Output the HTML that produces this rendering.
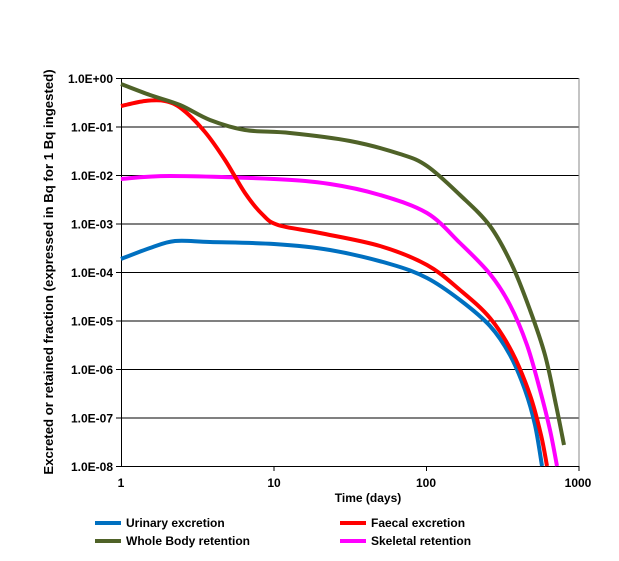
<!DOCTYPE html>
<html><head><meta charset="utf-8"><style>
body{margin:0;background:#fff}
svg text{font-family:"Liberation Sans",Arial,sans-serif;font-weight:bold;font-size:12px;fill:#000}
</style></head><body>
<svg id="s" width="619" height="556" xmlns="http://www.w3.org/2000/svg">
<g stroke="#000" stroke-width="1">
<line x1="121" y1="78.5" x2="579" y2="78.5"/>
<line x1="121" y1="127" x2="579" y2="127"/>
<line x1="121" y1="175.5" x2="579" y2="175.5"/>
<line x1="121" y1="224" x2="579" y2="224"/>
<line x1="121" y1="272.5" x2="579" y2="272.5"/>
<line x1="121" y1="321" x2="579" y2="321"/>
<line x1="121" y1="369.5" x2="579" y2="369.5"/>
<line x1="121" y1="418" x2="579" y2="418"/>
<line x1="121" y1="466.5" x2="579" y2="466.5"/>
<line x1="121.5" y1="78" x2="121.5" y2="467"/>
</g>
<line x1="579" y1="78" x2="579" y2="467" stroke="#888" stroke-width="1"/>
<g stroke="#000"><line x1="116" y1="78.5" x2="121" y2="78.5"/><line x1="116" y1="127" x2="121" y2="127"/><line x1="116" y1="175.5" x2="121" y2="175.5"/><line x1="116" y1="224" x2="121" y2="224"/><line x1="116" y1="272.5" x2="121" y2="272.5"/><line x1="116" y1="321" x2="121" y2="321"/><line x1="116" y1="369.5" x2="121" y2="369.5"/><line x1="116" y1="418" x2="121" y2="418"/><line x1="116" y1="466.5" x2="121" y2="466.5"/>
<line x1="274" y1="466" x2="274" y2="471"/><line x1="426.5" y1="466" x2="426.5" y2="471"/><line x1="579" y1="466" x2="579" y2="471"/></g>
<g text-anchor="end">
<text x="113" y="83">1.0E+00</text><text x="113" y="131.5">1.0E-01</text><text x="113" y="180">1.0E-02</text><text x="113" y="228.5">1.0E-03</text><text x="113" y="277">1.0E-04</text><text x="113" y="325.5">1.0E-05</text><text x="113" y="374">1.0E-06</text><text x="113" y="422.5">1.0E-07</text><text x="113" y="471">1.0E-08</text>
</g>
<g text-anchor="middle">
<text x="121" y="487">1</text><text x="274" y="487">10</text><text x="426" y="487">100</text><text x="578" y="487">1000</text>
<text x="368" y="502">Time (days)</text>
<text transform="translate(53,272) rotate(-90)" style="font-size:13.2px">Excreted or retained fraction (expressed in Bq for 1 Bq ingested)</text>
</g>
<g id="curves" fill="none" stroke-width="4" stroke-linejoin="round"></g>
<g stroke-width="4">
<line x1="95" y1="523" x2="121" y2="523" stroke="#0070C0"/>
<line x1="340" y1="523" x2="366" y2="523" stroke="#FF0000"/>
<line x1="95" y1="541" x2="121" y2="541" stroke="#4F6228"/>
<line x1="340" y1="541" x2="366" y2="541" stroke="#FF00FF"/>
</g>
<text x="126" y="527">Urinary excretion</text>
<text x="371" y="527">Faecal excretion</text>
<text x="126" y="545">Whole Body retention</text>
<text x="371" y="545">Skeletal retention</text>
</svg>
<script>
var data=[
["#0070C0",[[121,259],[150,248],[175,241],[210,242],[274,244],[330,250],[390,264],[427,278],[460,300],[490,326],[510,355],[525,390],[535,425],[542,466]]],
["#FF00FF",[[121,179],[170,176],[274,179],[330,184],[380,195],[427,213],[460,243],[490,274],[510,305],[527,345],[540,390],[550,430],[557,466]]],
["#FF0000",[[121,106],[145,101],[165,101],[182,109],[205,132],[225,160],[245,193],[262,214],[278,225],[320,233],[380,246],[427,265],[460,290],[490,318],[512,352],[530,395],[541,435],[547,466]]],
["#4F6228",[[121,84],[150,95],[180,105],[210,120],[245,130],[290,133],[350,141],[400,154],[427,166],[460,195],[490,226],[512,265],[530,310],[545,355],[556,405],[564,445]]]];
var g=document.getElementById('curves');
data.forEach(function(c){var p=c[1],d="M"+p[0][0]+","+p[0][1];
for(var i=0;i<p.length-1;i++){var a=p[i-1]||p[i],b=p[i],e=p[i+1],f=p[i+2]||e;
d+=" C"+(b[0]+(e[0]-a[0])/6)+","+(b[1]+(e[1]-a[1])/6)+" "+(e[0]-(f[0]-b[0])/6)+","+(e[1]-(f[1]-b[1])/6)+" "+e[0]+","+e[1];}
var el=document.createElementNS("http://www.w3.org/2000/svg","path");el.setAttribute("d",d);el.setAttribute("stroke",c[0]);g.appendChild(el);});
</script>
</body></html>
